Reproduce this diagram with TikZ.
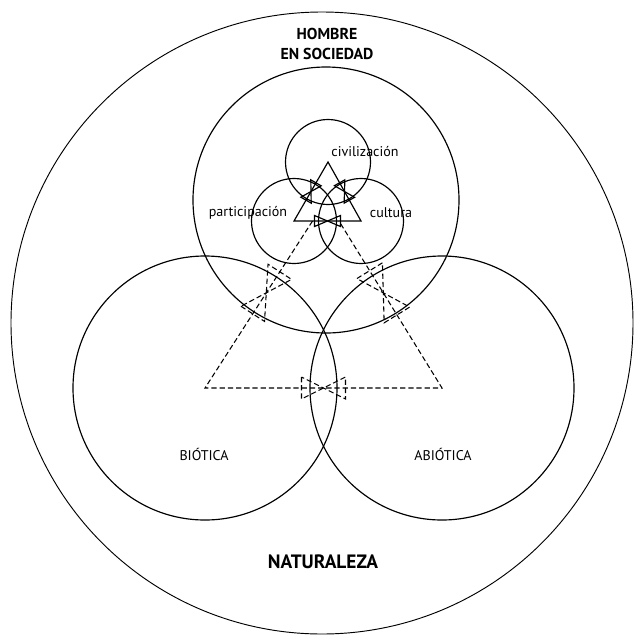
\documentclass[tikz,border=0pt]{standalone}
\usepackage{fontspec}
\setmainfont{PT Sans}
\usepackage{tikz}
\usetikzlibrary{calc}
\tikzset{
  ring/.style={draw=black,line width=1pt},
  ring-outer/.style={draw=black,line width=0.8pt},
  link-solid/.style={draw=black,line width=1pt},
  link-dashed/.style={draw=black,line width=0.9pt,dash pattern=on 4.5pt off 2.5pt},
  lbl-word/.style={font=\fontsize{12}{14}\selectfont,inner sep=0pt},
  lbl-caps/.style={font=\fontsize{13.5}{17}\selectfont\bfseries,align=center,inner sep=0pt},
  lbl-big/.style={font=\fontsize{16.5}{18}\selectfont\bfseries,inner sep=0pt},
  % two small triangles tip to tip, laid along the link
  pics/bowtie/.style args={#1/#2}{code={
    \draw (-#1,-#2) -- (-#1,#2) -- (#1,-#2) -- (#1,#2) -- cycle;}},
}
\begin{document}
\begin{tikzpicture}[x=0.03cm,y=-0.03cm]
  \useasboundingbox (0,0) rectangle (636,634);
  % centres of the rings
  \coordinate (naturaleza) at (322,323);
  \coordinate (hombre) at (326,200);
  \coordinate (biotica) at (205,388);
  \coordinate (abiotica) at (442,388);
  \coordinate (civ) at (328,162);
  \coordinate (part) at (294,221);
  \coordinate (cult) at (361,221);
  \draw[ring-outer] (naturaleza) circle[radius=311];
  \foreach \c/\r in {hombre/133, biotica/132, abiotica/132, civ/42.5, part/42.5, cult/42.5}
    \draw[ring] (\c) circle[radius=\r];
  % triangles
  \coordinate (topL) at (intersection of hombre--biotica and part--cult);
  \coordinate (topR) at (intersection of hombre--abiotica and part--cult);
  \draw[link-solid] (civ) -- (part) -- (cult) -- cycle;
  \draw[link-dashed] (topL) -- (biotica) -- (abiotica) -- (topR);
  \path (civ) -- (part) pic[pos=.5,sloped,link-solid]{bowtie={10/6}};
  \path (civ) -- (cult) pic[pos=.5,sloped,link-solid]{bowtie={10/6}};
  \path (part) -- (cult) pic[pos=.5,sloped,link-solid]{bowtie={13/5.5}};
  \path (topL) -- (biotica) pic[pos=.43,sloped,link-dashed]{bowtie={25/14}};
  \path (topR) -- (abiotica) pic[pos=.43,sloped,link-dashed]{bowtie={26/15}};
  \path (biotica) -- (abiotica) pic[pos=.5,sloped,link-dashed]{bowtie={22/11}};
  % labels
  \node[lbl-caps] (hombre-lbl) at (327,44) {HOMBRE\\EN SOCIEDAD};
  \node[lbl-word] (civ-lbl) at (365,152) {civilización};
  \node[lbl-word] (part-lbl) at (248,213) {participación};
  \node[lbl-word] (cult-lbl) at (391,213) {cultura};
  \node[lbl-word] (bio-lbl) at (204,454) {BIÓTICA};
  \node[lbl-word] (abio-lbl) at (443,454) {ABIÓTICA};
  \node[lbl-big] (nat-lbl) at (323,562) {NATURALEZA};
\end{tikzpicture}
\end{document}
